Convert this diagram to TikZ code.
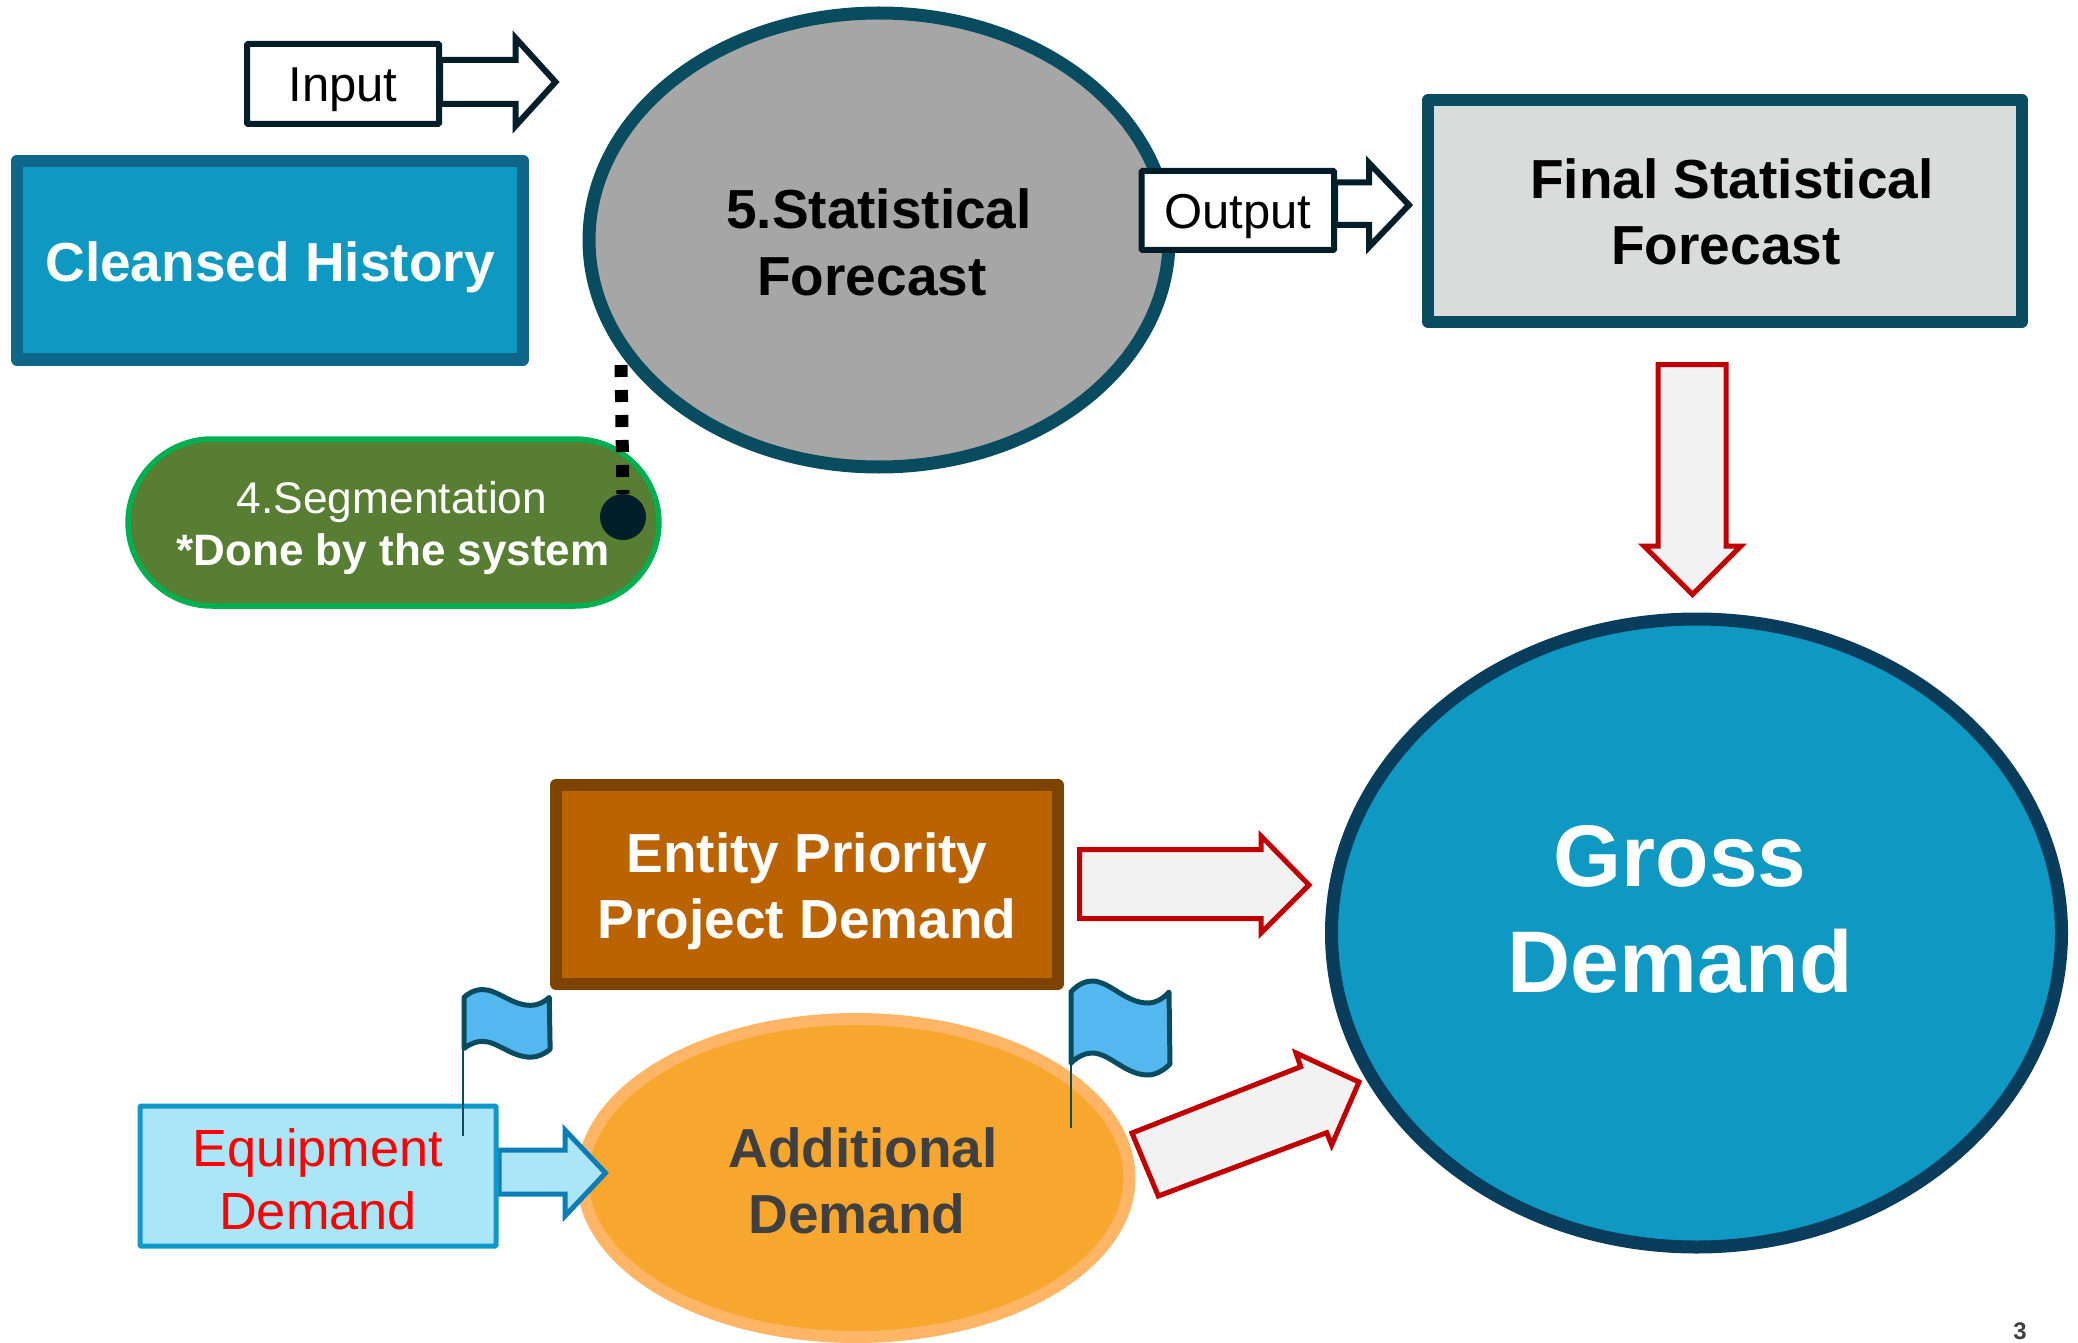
\documentclass[tikz,border=0pt]{standalone}
\usepackage{fontspec}
\setmainfont{Liberation Sans}
\usetikzlibrary{shapes.geometric}
\definecolor{teal}{HTML}{0A4C5F}
\definecolor{darkink}{HTML}{021E28}
\definecolor{skyfill}{HTML}{0F98C2}
\definecolor{cleansedline}{HTML}{0E668B}
\definecolor{grossline}{HTML}{0A3D5C}
\definecolor{lightblue}{HTML}{ABE5F8}
\definecolor{equipline}{HTML}{1098CC}
\definecolor{equiparrow}{HTML}{0F7DB5}
\definecolor{flagblue}{HTML}{53B8F0}
\definecolor{redline}{HTML}{C00000}
\definecolor{palefill}{HTML}{F2F2F2}
\definecolor{pillline}{HTML}{00B050}
\definecolor{pillfill}{HTML}{587E33}
\definecolor{finalfill}{HTML}{DADCDB}
\definecolor{entityline}{HTML}{7F4300}
\definecolor{entityfill}{HTML}{BB6300}
\definecolor{addline}{HTML}{FFB566}
\definecolor{addfill}{HTML}{F7A72E}
\definecolor{darkgrey}{HTML}{404040}
\newcommand{\fs}[1]{\fontsize{#1}{#1}\selectfont}
\newcommand{\flagpath}{(0,11) .. controls (7,3) and (15,0) .. (21,0) .. controls (39,0) and (54,22) .. (77,22) .. controls (85,22) and (93,17) .. (98,11) -- (99,83) .. controls (93,89) and (85,94) .. (77,94) .. controls (54,94) and (39,72) .. (21,72) .. controls (15,72) and (7,75) .. (0,82) -- cycle}
\tikzset{
  x=1pt,y=-1pt,
  lbl/.style={anchor=base,inner sep=0pt,font=\fs{55}\bfseries},
  plain/.style={anchor=base,inner sep=0pt,font=\fs{#1}},
  redarrow/.style={draw=redline,fill=palefill,line width=5pt,line join=miter,miter limit=10},
  inkarrow/.style={draw=darkink,fill=white,line width=6pt,line join=miter,miter limit=10},
  inkbox/.style={draw=darkink,fill=white,line width=6pt,rounded corners=1pt},
  flagstyle/.style={draw=teal,fill=flagblue,line width=5pt,line join=round},
  pole/.style={draw=teal,line width=2.5pt},
  ell/.style={ellipse,draw,inner sep=0pt},
}
\begin{document}
\begin{tikzpicture}
\useasboundingbox (0,0) rectangle (2078,1343);
\clip (0,0) rectangle (2078,1343);
% Statistical forecast
\node[ell,draw=teal,fill=black!35,line width=13pt,minimum width=580pt,minimum height=454pt] (stat) at (879,240) {};
\node[lbl] (statA) at (879,229) {5.Statistical};
\node[lbl] (statB) at (872,295) {Forecast};
% Input
\draw[inkarrow] (440,60) -- (515.5,60) -- (515.5,38) -- (555.5,82) -- (515.5,126) -- (515.5,104) -- (440,104) -- cycle;
\draw[inkbox] (247,44) rectangle (439,124);
\node[plain=49] (input) at (343,102) {Input};
% Cleansed history
\draw[draw=cleansedline,fill=skyfill,line width=12.5pt,line join=round] (17,161) rectangle (523,359.5);
\node[lbl,text=white] (hist) at (270,281) {Cleansed History};
% Segmentation
\draw[draw=pillline,fill=pillfill,line width=5.5pt,rounded corners=84pt] (128,439) rectangle (659,606);
\node[plain=44.3,text=white] (segA) at (392,513) {4.Segmentation};
\node[anchor=base,inner sep=0pt,font=\fs{44}\bfseries,text=white] (segB) at (393,565) {*Done by the system};
\node[circle,fill=darkink,inner sep=0pt,minimum size=46pt] (dot) at (623,517) {};
\coordinate (dotend) at (621,365);
\draw[black,line width=13pt,dash pattern=on 12pt off 13pt] (dotend) -- (dot.north);
% Output
\draw[inkarrow] (1335,182.5) -- (1369,182.5) -- (1369,163) -- (1409,205) -- (1369,247) -- (1369,225) -- (1335,225) -- cycle;
\draw[inkbox] (1141.5,171) rectangle (1334,250);
\node[plain=49] (output) at (1238,229) {Output};
% Final
\draw[draw=teal,fill=finalfill,line width=12pt,line join=round] (1428,100) rectangle (2022,321.5);
\node[lbl] (finA) at (1732,199) {Final Statistical};
\node[lbl] (finB) at (1726,265) {Forecast};
% Down arrow
\draw[redarrow] (1658,364.5) -- (1726,364.5) -- (1726,546) -- (1741,546) -- (1692.5,594.5) -- (1644,546) -- (1658,546) -- cycle;
% Gross
\node[ell,draw=grossline,fill=skyfill,line width=13pt,minimum width=730pt,minimum height=628pt] (gross) at (1696.5,933) {};
\node[anchor=base,inner sep=0pt,font=\fs{87.5}\bfseries,text=white] (grA) at (1680,886) {Gross};
\node[anchor=base,inner sep=0pt,font=\fs{87.5}\bfseries,text=white] (grB) at (1680,992) {Demand};
% Entity
\draw[draw=entityline,fill=entityfill,line width=12pt,line join=round] (556,785) rectangle (1058,984);
\node[lbl,text=white] (entA) at (807,872) {Entity Priority};
\node[lbl,text=white] (entB) at (807,938) {Project Demand};
% Horizontal red arrow
\draw[redarrow] (1079.5,849.5) -- (1261,849.5) -- (1261,836) -- (1309,885) -- (1261,933) -- (1261,918.5) -- (1079.5,918.5) -- cycle;
% Additional
\node[ell,draw=addline,fill=addfill,line width=12pt,minimum width=547pt,minimum height=318pt] (add) at (856,1178) {};
\node[lbl,text=darkgrey] (addA) at (863,1167) {Additional};
\node[lbl,text=darkgrey] (addB) at (857,1233) {Demand};
% Diagonal arrow
\draw[redarrow] (1132,1133) -- (1300.7,1066.7) -- (1296,1053) -- (1359,1082) -- (1331.7,1145) -- (1326.7,1132.7) -- (1158.3,1196) -- cycle;
% Equipment
\draw[draw=equiparrow,fill=lightblue,line width=5pt,line join=miter,miter limit=10] (499,1150) -- (565,1150) -- (565,1130) -- (605.5,1173) -- (565,1216) -- (565,1194) -- (499,1194) -- cycle;
\draw[draw=equipline,fill=lightblue,line width=5pt,rounded corners=1pt] (140,1106) rectangle (496,1246);
\node[plain=52.3,text=red] (eqA) at (318,1166) {Equipment};
\node[plain=52.3,text=red] (eqB) at (318,1229) {Demand};
% Flags
\begin{scope}[shift={(464,989.5)},xscale=.87,yscale=.72]
\draw[flagstyle] \flagpath;
\end{scope}
\draw[pole] (463,1047) -- (463,1136);
\begin{scope}[shift={(1071,981)}]
\draw[flagstyle] \flagpath;
\end{scope}
\draw[pole] (1071,1060) -- (1071,1128);
% page number
\node[anchor=base,inner sep=0pt,font=\fs{24}\bfseries,text=darkgrey] (page) at (2020,1339) {3};
\end{tikzpicture}
\end{document}
